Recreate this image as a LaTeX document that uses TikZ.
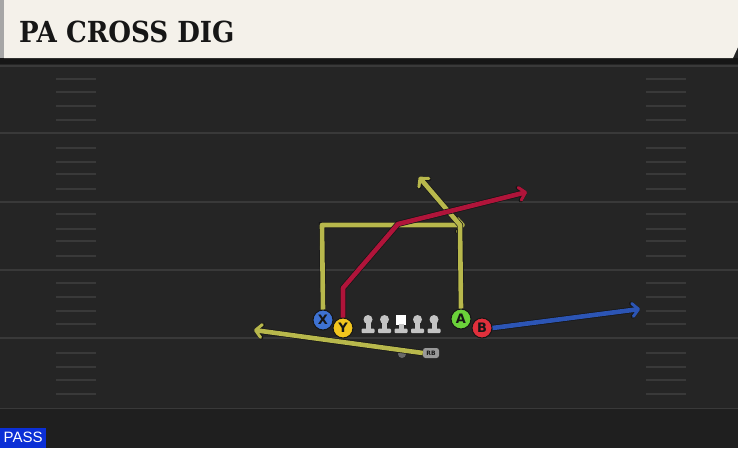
\documentclass[tikz,border=0pt]{standalone}
\usepackage{fontspec}
\setmainfont{DejaVu Sans}
\newfontfamily\titlefont{DejaVu Serif Condensed}
\newfontfamily\passfont{Liberation Sans}
\usetikzlibrary{arrows.meta}

\definecolor{field}{HTML}{252525}
\definecolor{fieldlow}{HTML}{1F1F1F}
\definecolor{yardline}{HTML}{393939}
\definecolor{cream}{HTML}{F4F1EA}
\definecolor{edge}{HTML}{161616}
\definecolor{routeyellow}{HTML}{B8B84C}
\definecolor{routered}{HTML}{B0143A}
\definecolor{routeblue}{HTML}{2C55B5}
\definecolor{xblue}{HTML}{3E72D2}
\definecolor{yyellow}{HTML}{F2C51E}
\definecolor{agreen}{HTML}{6BD23A}
\definecolor{bred}{HTML}{E0303C}
\definecolor{olgray}{HTML}{C4C4C4}
\definecolor{passblue}{HTML}{0B2FD6}

\tikzstyle{player} = [circle, draw=edge, line width=1pt, minimum size=20pt,
    inner sep=0pt, text=edge, font=\bfseries\fontsize{13}{13}\selectfont]
\tikzstyle{route} = [line width=4.6pt, line join=round,
    -{Straight Barb[length=6pt,width=13pt,line width=3pt,round]},
    preaction={draw=edge, line width=6pt,
      -{Straight Barb[length=6pt,width=13pt,line width=4.2pt,round]}}]
\tikzstyle{lineman} = [rectangle, minimum width=14pt, minimum height=18pt, inner sep=0pt,
    path picture={
      \fill[olgray] ([yshift=4.5pt]path picture bounding box.center) circle (4.5pt);
      \fill[olgray] ([xshift=-2.5pt,yshift=2pt]path picture bounding box.center)
        rectangle ([xshift=2.5pt,yshift=-5pt]path picture bounding box.center);
      \fill[olgray, rounded corners=1pt] ([xshift=-6.5pt,yshift=-4.5pt]path picture bounding box.center)
        rectangle ([xshift=6.5pt,yshift=-9pt]path picture bounding box.center);
    }]
\tikzstyle{snapper} = [rectangle, minimum width=14pt, minimum height=18pt, inner sep=0pt,
    path picture={
      \fill[white] ([xshift=-5pt,yshift=9pt]path picture bounding box.center)
        rectangle ([xshift=5pt,yshift=-0.5pt]path picture bounding box.center);
      \fill[olgray] ([xshift=-2.5pt,yshift=0pt]path picture bounding box.center)
        rectangle ([xshift=2.5pt,yshift=-5pt]path picture bounding box.center);
      \fill[olgray, rounded corners=1pt] ([xshift=-6.5pt,yshift=-4.5pt]path picture bounding box.center)
        rectangle ([xshift=6.5pt,yshift=-9pt]path picture bounding box.center);
    }]

\begin{document}
\begin{tikzpicture}[x=1pt, y=-1pt]

    \useasboundingbox (0,0) rectangle (738,448);

    % Field
    \fill[field] (0,0) rectangle (738,448);
    \fill[fieldlow] (0,408) rectangle (738,448);
    \draw[yardline, line width=1pt] (0,408) -- (738,408);
    \foreach \y in {66,133,202,270,338}
        \draw[yardline, line width=2pt] (0,\y) -- (738,\y);
    \foreach \y in {79,92,106,120,148,162,174,189,214,229,241,256,283,297,311,324,353,367,380,394} {
        \draw[yardline, line width=1.5pt] (56,\y) -- (96,\y);
        \draw[yardline, line width=1.5pt] (646,\y) -- (686,\y);
    }

    % Header
    \fill[edge] (0,58) rectangle (738,64);
    \fill[gray!70] (0,0) rectangle (4,58);
    \fill[cream] (4,0) -- (738,0) -- (738,47) -- (733,58) -- (4,58) -- cycle;
    \node [anchor=base west, inner sep=0pt, text=edge,
        font=\titlefont\bfseries\fontsize{29}{29}\selectfont] (title) at (19,42) {PA CROSS DIG};

    % Place nodes
    \node [snapper] (c) at (401,324) {};
    \node [lineman, left of=c, node distance=16.5pt] (lg) {};
    \node [lineman, left of=lg, node distance=16.5pt] (lt) {};
    \node [lineman, right of=c, node distance=16.5pt] (rg) {};
    \node [lineman, right of=rg, node distance=16.5pt] (rt) {};

    \node [player, fill=xblue] (x) at (323,320) {X};
    \node [player, fill=yyellow] (y) at (343,328) {Y};
    \node [player, fill=agreen] (a) at (461,319) {A};
    \node [player, fill=bred] (b) at (482,328) {B};

    \node [circle, fill=gray!75!field, minimum size=8pt, inner sep=0pt] (qb) at (402,354) {};
    \node [rectangle, rounded corners=2.5pt, fill=gray!80, minimum width=16pt, minimum height=10pt,
        inner sep=0pt, text=edge, font=\bfseries\fontsize{6}{6}\selectfont] (rb) at (431,353) {RB};

    \node [fill=passblue, text=white, anchor=south west, minimum width=46pt, minimum height=20pt,
        inner sep=0pt, font=\passfont\fontsize{15}{15}\selectfont] (pass) at (0,448) {PASS};

    % Route points
    \coordinate (xcut) at (322,225);
    \coordinate (xend) at (465,225);
    \coordinate (acut) at (460,225);
    \coordinate (aend) at (419,177);
    \coordinate (ystem) at (343,288);
    \coordinate (ycut) at (398,224);
    \coordinate (yend) at (527,192);
    \coordinate (bend) at (640,309);
    \coordinate (rbend) at (254,330);

    % Draw routes
    \draw [route, routeyellow] (rb.west) -- (rbend);
    \draw [route, routeyellow] (x.north) -- (xcut) -- (xend);
    \draw [route, routeyellow] (a.north) -- (acut) -- (aend);
    \draw [route, routered] (y.north) -- (ystem) -- (ycut) -- (yend);
    \draw [route, routeblue] (b.east) -- (bend);

\end{tikzpicture}
\end{document}
